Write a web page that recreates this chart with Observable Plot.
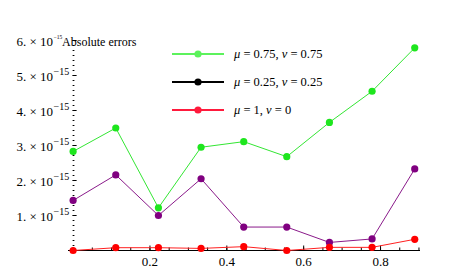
<!DOCTYPE html>
<html>
<head>
<meta charset="utf-8">
<script src="https://cdn.jsdelivr.net/npm/d3@7"></script>
<script src="https://cdn.jsdelivr.net/npm/@observablehq/plot@0.6"></script>
<style>
  body { margin: 0; background: #fff; }
  #wrap { position: relative; width: 449px; height: 274px; }
  #wrap svg text { font-family: "Liberation Serif", "Times New Roman", serif; }
  #legend { position: absolute; left: 170px; top: 40px; font: 12.5px "Liberation Serif", serif; color: #000; }
  .row { display: flex; align-items: center; height: 28px; }
  .row svg { margin-right: 8px; }
</style>
</head>
<body>
<div id="wrap"><div id="legend"></div></div>
<script>
// x positions (nodes)
const xs = [0, 0.111, 0.222, 0.333, 0.444, 0.556, 0.667, 0.778, 0.889];
// absolute errors, in units of 1e-15
const greenVals  = [2.83, 3.50, 1.22, 2.95, 3.11, 2.68, 3.66, 4.55, 5.79];
const purpleVals = [1.43, 2.16, 1.00, 2.05, 0.67, 0.67, 0.23, 0.33, 2.33];
const redVals    = [0.00, 0.08, 0.08, 0.06, 0.11, 0.00, 0.09, 0.09, 0.32];

const legendLabels = ["μ = 0.75, ν = 0.75", "μ = 0.25, ν = 0.25", "μ = 1, ν = 0"];
const legendColors = ["#5cf25c", "#000000", "#ff1a3c"];

const yMajor = [1, 2, 3, 4, 5, 6];
const yTickLabels = ["1. × 10", "2. × 10", "3. × 10", "4. × 10", "5. × 10", "6. × 10"];
const yExp = "−15";
const yMinor = d3.range(0, 6.001, 1 / 7);
const xMajor = [0.2, 0.4, 0.6, 0.8];
const xMinor = d3.range(0, 0.91, 0.05);
const title = "Absolute errors";

const serif = "'Liberation Serif', 'Times New Roman', serif";

function series(vals, name) { return xs.map((x, i) => ({x, y: vals[i], name})); }
const G = series(greenVals, "g"), P = series(purpleVals, "p"), R = series(redVals, "r");

const pxPerX = 384; // approx pixels per x unit, for tick lengths
const pxPerY = 35;  // approx pixels per y unit, for tick lengths
const T = {fontFamily: serif, fill: "#000"};
const plot = Plot.plot({
  width: 449, height: 274,
  marginLeft: 68, marginRight: 29, marginTop: 40, marginBottom: 24,
  x: {domain: [-0.012, 0.904], axis: null},
  y: {domain: [0, 6], axis: null},
  style: {fontFamily: serif, background: "white"},
  marks: [
    // x axis line and ticks (upward)
    Plot.ruleY([0], {stroke: "#000", strokeWidth: 1}),
    Plot.ruleX(xMinor, {x: d => d, y1: 0, y2: 2.5 / pxPerY, stroke: "#000"}),
    Plot.ruleX(xMajor, {x: d => d, y1: 0, y2: 4.5 / pxPerY, stroke: "#000"}),
    Plot.text(xMajor, {...T, x: d => d, y: 0, text: d => String(d), dy: 11, fontSize: 13}),
    // y ticks (no axis line)
    Plot.ruleY(yMinor, {y: d => d, x1: 0, x2: 1.8 / pxPerX, stroke: "#000"}),
    Plot.ruleY(yMajor, {y: d => d, x1: 0, x2: 4 / pxPerX, stroke: "#000"}),
    Plot.text(yMajor, {...T, x: 0, y: d => d, text: (d, i) => yTickLabels[i], textAnchor: "end", dx: -20, dy: 1, fontSize: 13}),
    Plot.text(yMajor.slice(0, 5), {...T, x: 0, y: d => d, text: () => yExp, textAnchor: "start", dx: -19.5, dy: -4, fontSize: 10}),
    Plot.text([6], {...T, x: 0, y: d => d, text: () => yExp, textAnchor: "start", dx: -19.5, dy: -3, fontSize: 5.5}),
    Plot.text([title], {...T, x: 0, y: 6, text: d => d, textAnchor: "start", dx: -11, dy: 2, fontSize: 12}),
    // data
    Plot.line(G, {x: "x", y: "y", stroke: "#33e633", strokeWidth: 1}),
    Plot.line(P, {x: "x", y: "y", stroke: "#8a1a8a", strokeWidth: 1}),
    Plot.line(R, {x: "x", y: "y", stroke: "#ff2020", strokeWidth: 1}),
    Plot.dot(G, {x: "x", y: "y", r: 3.6, fill: "#1ee61e"}),
    Plot.dot(P, {x: "x", y: "y", r: 3.6, fill: "#800080"}),
    Plot.dot(R, {x: "x", y: "y", r: 3.6, fill: "#ff0000"})
  ]
});
document.getElementById("wrap").prepend(plot);

// legend
const lg = d3.select("#legend");
legendLabels.forEach((lab, i) => {
  const row = lg.append("div").attr("class", "row");
  const s = row.append("svg").attr("width", 56).attr("height", 10);
  s.append("line").attr("x1", 2).attr("x2", 54).attr("y1", 5).attr("y2", 5)
    .attr("stroke", legendColors[i]).attr("stroke-width", 2);
  s.append("circle").attr("cx", 28).attr("cy", 5).attr("r", 3.6).attr("fill", legendColors[i]);
  const sp = row.append("span");
  lab.split(/(μ|ν)/).forEach(part => {
    if (part === "μ" || part === "ν") sp.append("i").text(part);
    else sp.append("span").text(part);
  });
});
</script>
</body>
</html>
